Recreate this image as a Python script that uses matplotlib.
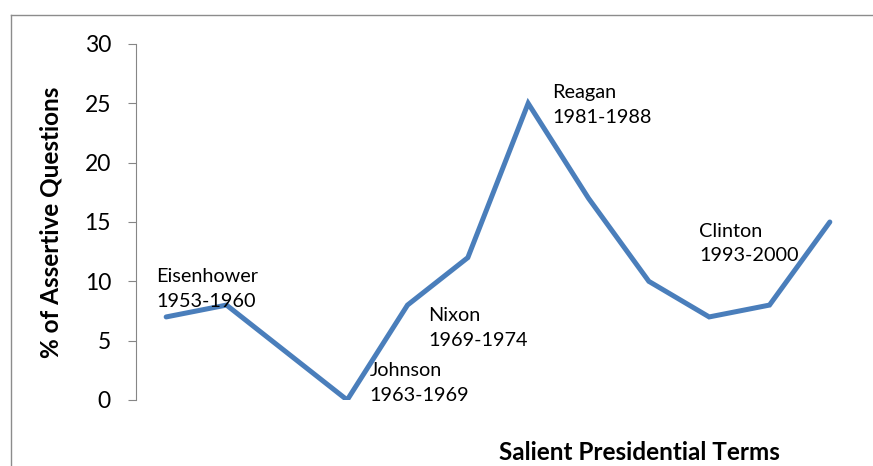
import matplotlib
matplotlib.use('Agg')
import matplotlib.pyplot as plt
from matplotlib.lines import Line2D

plt.rcParams['font.family'] = ['Lato', 'DejaVu Sans']

# data
terms = list(range(12))
assertive = [7, 8, 4, 0, 8, 12, 25, 17, 10, 7, 8, 15]
yticks = [0, 5, 10, 15, 20, 25, 30]

# labels: (text, x, top y) in data units
notes = [('Eisenhower\n1953-1960', -0.17, 11.1),
         ('Johnson\n1963-1969', 3.37, 3.2),
         ('Nixon\n1969-1974', 4.35, 7.8),
         ('Reagan\n1981-1988', 6.4, 26.6),
         ('Clinton\n1993-2000', 8.83, 14.95)]

fig = plt.figure(figsize=(8.73, 4.66), dpi=100)
ax = fig.add_axes([136/873, 66/466, 724/873, 356/466])

ax.plot(terms, assertive, color='#4a7ebb', lw=3.6, solid_joinstyle='miter', solid_capstyle='round')
for txt, x, y in notes:
    ax.text(x, y, txt, fontsize=14.3, va='top', ha='left', linespacing=1.55)

ax.set_xlim(-0.5, 11.5)
ax.set_ylim(0, 30)
ax.set_yticks(yticks)
ax.set_xticks([])
for s in ['top', 'right', 'bottom']:
    ax.spines[s].set_visible(False)
ax.spines['left'].set_color('#868686')
ax.tick_params(axis='y', length=6, color='#868686', labelsize=16.5, pad=12)

ax.set_ylabel('% of Assertive Questions', fontsize=17.5, fontweight='bold')
ax.yaxis.set_label_coords(-0.101, 0.5)
ax.set_xlabel('Salient Presidential Terms', fontsize=17.5, fontweight='bold')
ax.xaxis.set_label_coords(0.695, -0.116)

# chart frame (left and top edges visible)
fig.add_artist(Line2D([10.5/873, 10.5/873], [0, 1 - 15/466], transform=fig.transFigure, color='#8c8c8c', lw=1))
fig.add_artist(Line2D([10.5/873, 1], [1 - 15/466, 1 - 15/466], transform=fig.transFigure, color='#8c8c8c', lw=1))

fig.savefig('out.png', dpi=100)
